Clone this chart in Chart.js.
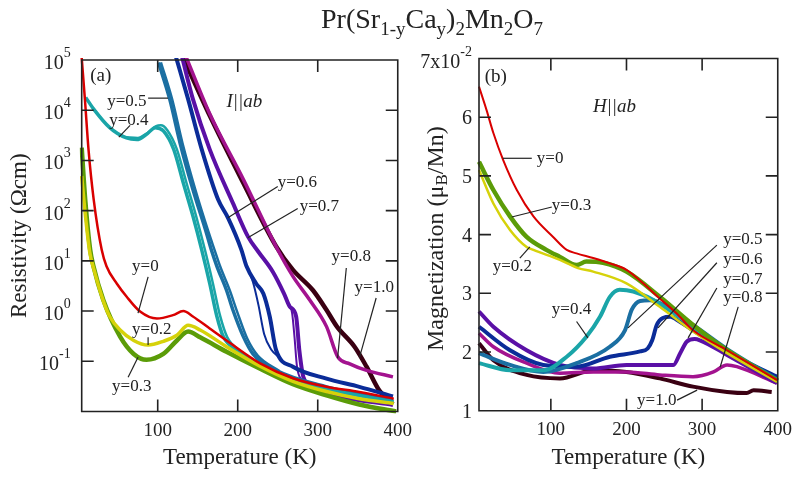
<!DOCTYPE html>
<html>
<head>
<meta charset="utf-8">
<script src="https://cdn.jsdelivr.net/npm/chart.js@4"></script>
<style>
  html, body { margin: 0; padding: 0; background: #fff; overflow: hidden; width: 793px; height: 477px; }
  .panel { position: absolute; top: 0; height: 477px; }
  #pa { left: 0; width: 420px; }
  #pb { left: 400px; width: 400px; }
  #title { position: absolute; left: 321px; top: 5px; font: 28px/1 'Liberation Serif', serif; color: #222; white-space: nowrap; }
  #title sub { font-size: 19px; vertical-align: -7px; }
</style>
</head>
<body>
<div class="panel" id="pa"><canvas id="ca"></canvas></div>
<div class="panel" id="pb"><canvas id="cb"></canvas></div>
<div id="title">Pr(Sr<sub>1-y</sub>Ca<sub>y</sub>)<sub>2</sub>Mn<sub>2</sub>O<sub>7</sub></div>
<script>
const serif = "'Liberation Serif', 'Times New Roman', serif";
const ink = '#222';

// ---- axes ----
const tempTicks = [100, 200, 300, 400];
const rhoTicks = [0.1, 1, 10, 100, 1e3, 1e4, 1e5];
const rhoTickLabels = [['10', '-1'], ['10', '0'], ['10', '1'], ['10', '2'], ['10', '3'], ['10', '4'], ['10', '5']];
const magTicks = [1, 2, 3, 4, 5, 6, 7];
const magTickLabels = [['1', ''], ['2', ''], ['3', ''], ['4', ''], ['5', ''], ['6', ''], ['7x10', '-2']];

// ---- (a) resistivity, Ωcm ----
const rhoT_0 = [5, 9, 13.5, 20, 30, 36, 49, 61, 78, 99, 119, 132, 144, 165, 186, 228, 269, 311, 352, 395];
const rho_0 = [1.1e5, 1.66e4, 1.66e3, 166, 16.6, 7.8, 3.5, 1.95, 0.98, 0.71, 0.83, 1.0, 0.78, 0.45, 0.26, 0.091, 0.046, 0.031, 0.0245, 0.018];
const rhoT_2 = [5, 9, 15, 20, 32, 40, 53, 70, 88, 107, 124, 138, 153, 186, 228, 269, 311, 352, 395];
const rho_2 = [490, 100, 15, 7, 1.6, 0.78, 0.42, 0.26, 0.21, 0.25, 0.33, 0.52, 0.42, 0.195, 0.08, 0.04, 0.025, 0.018, 0.0145];
const rhoT_3 = [5, 9.4, 15.6, 19.7, 32, 53, 70, 86, 107, 124, 138, 153, 186, 228, 269, 311, 352, 398];
const rho_3 = [1.8e3, 166, 16.6, 7.8, 1.66, 0.31, 0.14, 0.107, 0.14, 0.26, 0.39, 0.30, 0.155, 0.071, 0.035, 0.021, 0.0138, 0.01];
const rhoT_4 = [10, 20, 40, 61, 74, 86, 97, 107, 120, 132, 144, 155, 165, 174, 182, 199, 228, 269, 311, 395];
const rho_4 = [1.8e4, 1.05e4, 4.5e3, 2.8e3, 2.6e3, 3.3e3, 4.5e3, 3.9e3, 1.66e3, 355, 78, 16.6, 3.55, 0.78, 0.31, 0.166, 0.078, 0.042, 0.028, 0.0155];
const rhoT_4b = [60, 75, 88, 98, 104, 112, 124, 136, 148, 159, 169, 178, 187, 203, 230];
const rho_4b = [2.9e3, 2.8e3, 3.6e3, 4.8e3, 5.0e3, 4.0e3, 1.66e3, 355, 78, 16.6, 3.55, 0.8, 0.3, 0.16, 0.08];
const rhoT_5 = [101, 115, 128, 144, 161, 167, 174, 186, 194, 207, 219, 248, 311, 394];
const rho_5 = [8.9e4, 1.66e4, 2.2e3, 263, 35.5, 16.6, 7.8, 2.6, 1.05, 0.31, 0.141, 0.066, 0.031, 0.0166];
const rhoT_5b = [104, 118, 131, 147, 164, 171, 178, 190, 199, 212, 225, 252];
const rho_5b = [9e4, 1.66e4, 2.2e3, 263, 35.5, 16.6, 7.8, 2.6, 1.0, 0.28, 0.13, 0.064];
const rhoT_6 = [123, 138, 155, 175.5, 188, 204.6, 211, 223, 232, 240, 248, 269, 311, 352, 394];
const rho_6 = [1.12e5, 1.66e4, 1.66e3, 166, 71, 16.6, 7.8, 3.55, 2.24, 0.78, 0.166, 0.078, 0.045, 0.031, 0.02];
const rhoT_6b = [211, 219, 226, 233, 242, 252];
const rho_6b = [7.8, 3.8, 1.3, 0.35, 0.17, 0.12];
const rhoT_7 = [130, 144, 165, 194, 213, 226, 244, 258, 265, 273, 277, 282, 294, 331, 394];
const rho_7 = [1.23e5, 1.66e4, 1.66e3, 141, 30, 15, 6.0, 2.2, 1.23, 0.78, 0.166, 0.049, 0.031, 0.0195, 0.0135];
const rhoT_7b = [262, 268, 271, 274, 280, 290];
const rho_7b = [1.5, 0.9, 0.3, 0.08, 0.042, 0.033];
const rhoT_8 = [135, 165, 207, 250, 269, 290, 311, 325, 340, 361, 394];
const rho_8 = [1.2e5, 8.5e3, 420, 16.6, 4.9, 1.66, 0.49, 0.123, 0.089, 0.066, 0.049];
const rhoT_10 = [131, 165, 207, 248, 269, 294, 311, 324, 346, 361, 377, 394];
const rho_10 = [1.2e5, 7.8e3, 355, 19.5, 6.6, 2.6, 1.05, 0.49, 0.195, 0.078, 0.026, 0.014];

// ---- (b) magnetization, 10^-2 μB/Mn ----
const magT_0 = [5, 15, 24, 37, 55, 77, 103, 121, 134, 156, 178, 200, 222, 244, 266, 288, 333, 399];
const mag_0 = [6.52, 6.12, 5.73, 5.27, 4.76, 4.31, 3.96, 3.74, 3.68, 3.60, 3.51, 3.40, 3.17, 2.91, 2.66, 2.37, 2.03, 1.52];
const magT_2 = [5, 24, 46, 68, 77, 112, 136, 156, 200, 244, 288, 333, 399];
const mag_2 = [5.10, 4.53, 4.08, 3.79, 3.74, 3.57, 3.43, 3.37, 3.17, 2.77, 2.35, 1.98, 1.49];
const magT_3 = [5, 24, 46, 68, 94, 112, 134, 147, 169, 200, 244, 288, 333, 400];
const mag_3 = [5.24, 4.76, 4.31, 3.96, 3.74, 3.62, 3.48, 3.54, 3.52, 3.37, 2.94, 2.46, 2.03, 1.51];
const magT_4 = [5, 46, 90, 121, 147, 165, 178, 191, 209, 235, 288, 333, 399];
const mag_4 = [1.81, 1.69, 1.69, 1.92, 2.26, 2.60, 2.94, 3.06, 3.03, 2.89, 2.43, 2.03, 1.52];
const magT_5 = [5, 46, 90, 134, 178, 198, 207, 218, 231, 240, 288, 333, 399];
const mag_5 = [1.98, 1.78, 1.66, 1.81, 2.09, 2.37, 2.72, 2.87, 2.88, 2.86, 2.46, 2.05, 1.53];
const magT_6 = [5, 46, 90, 134, 178, 218, 228, 234, 240, 248, 258, 270, 288, 333, 399];
const mag_6 = [2.43, 2.03, 1.78, 1.75, 1.92, 2.01, 2.06, 2.2, 2.46, 2.58, 2.6, 2.52, 2.37, 2.0, 1.58];
const magT_7 = [5, 24, 68, 112, 156, 200, 262, 271, 280, 290, 297, 333, 399];
const mag_7 = [2.69, 2.43, 2.03, 1.78, 1.72, 1.78, 1.78, 1.98, 2.18, 2.22, 2.20, 1.95, 1.47];
const magT_8 = [5, 24, 68, 112, 156, 200, 244, 288, 300, 315, 333, 346, 399];
const mag_8 = [2.32, 2.09, 1.81, 1.64, 1.66, 1.66, 1.61, 1.58, 1.60, 1.66, 1.78, 1.75, 1.47];
const magT_10 = [5, 24, 68, 112, 156, 200, 244, 288, 333, 359, 368, 392];
const mag_10 = [2.15, 1.86, 1.61, 1.55, 1.69, 1.66, 1.55, 1.41, 1.32, 1.30, 1.35, 1.32];

const colors = {
  y0: '#d90000', y2: '#d6d20a', y3: '#5b9c08', y4: '#1aa5a8', y5: '#1b6fa2',
  y6: '#0b2c98', y7: '#5a10a6', y8: '#a3138f', y10: '#3a0012'
};

function pts(xs, ys) { return xs.map((x, i) => ({ x, y: ys[i] })); }
function curve(label, xs, ys, color, width) {
  return { label, data: pts(xs, ys), borderColor: color, borderWidth: width, pointRadius: 0,
    fill: false, cubicInterpolationMode: 'monotone', clip: 2 };
}

const dsA = [
  curve('y=0', rhoT_0, rho_0, colors.y0, 2.5),
  curve('y=0.2', rhoT_2, rho_2, colors.y2, 3.5),
  curve('y=0.3', rhoT_3, rho_3, colors.y3, 4.5),
  curve('y=0.4', rhoT_4, rho_4, colors.y4, 3.5),
  curve('y=0.4 b', rhoT_4b, rho_4b, colors.y4, 2.5),
  curve('y=0.5', rhoT_5, rho_5, colors.y5, 3.5),
  curve('y=0.5 b', rhoT_5b, rho_5b, colors.y5, 2.5),
  curve('y=0.6', rhoT_6, rho_6, colors.y6, 4),
  curve('y=0.6 b', rhoT_6b, rho_6b, colors.y6, 2),
  curve('y=0.7', rhoT_7, rho_7, colors.y7, 4),
  curve('y=0.7 b', rhoT_7b, rho_7b, colors.y7, 2),
  curve('y=0.8', rhoT_8, rho_8, colors.y8, 3.5),
  curve('y=1.0', rhoT_10, rho_10, colors.y10, 4.5)
];

const dsB = [
  curve('y=0', magT_0, mag_0, colors.y0, 2),
  curve('y=0.2', magT_2, mag_2, colors.y2, 2.5),
  curve('y=0.3', magT_3, mag_3, colors.y3, 4.5),
  curve('y=0.4', magT_4, mag_4, colors.y4, 4),
  curve('y=0.5', magT_5, mag_5, colors.y5, 4),
  curve('y=0.6', magT_6, mag_6, colors.y6, 4),
  curve('y=0.7', magT_7, mag_7, colors.y7, 4),
  curve('y=0.8', magT_8, mag_8, colors.y8, 3.5),
  curve('y=1.0', magT_10, mag_10, colors.y10, 4)
];

// labels and leader lines, in data units
const notesA = [
  { text: '(a)', x: 15.6, y: 4.8e4, size: 19 },
  { text: 'I||ab', x: 186, y: 1.45e4, italic: true, size: 19 },
  { text: 'y=0.5', x: 36.8, y: 1.5e4, line: [88, 1.74e4, 113, 1.74e4] },
  { text: 'y=0.4', x: 39.3, y: 6.3e3, line: [65.5, 5.0e3, 51.4, 2.9e3] },
  { text: 'y=0.6', x: 250, y: 363, line: [250, 302, 187.7, 72] },
  { text: 'y=0.7', x: 277.4, y: 120, line: [275, 110, 212.6, 28.8] },
  { text: 'y=0.8', x: 317.3, y: 12, line: [335.7, 7.2, 324.8, 0.115] },
  { text: 'y=1.0', x: 346, y: 3.0, line: [373, 1.82, 352.2, 0.12] },
  { text: 'y=0', x: 68, y: 7.6, line: [88, 4.8, 75.4, 0.91] },
  { text: 'y=0.2', x: 68, y: 0.436, line: [88, 0.30, 88, 0.21] },
  { text: 'y=0.3', x: 43, y: 0.0316, line: [63, 0.048, 75.4, 0.12] }
];
const notesB = [
  { text: '(b)', x: 12.6, y: 6.68, size: 19 },
  { text: 'H||ab', x: 155.6, y: 6.17, italic: true, size: 19 },
  { text: 'y=0', x: 81.5, y: 5.30, line: [36.4, 5.30, 74.8, 5.30] },
  { text: 'y=0.3', x: 101.3, y: 4.50, line: [48.3, 4.30, 101.3, 4.47] },
  { text: 'y=0.2', x: 23.2, y: 3.45, line: [59, 3.60, 72.2, 3.79] },
  { text: 'y=0.4', x: 101.3, y: 2.72, line: [134, 2.52, 149, 2.24] },
  { text: 'y=0.5', x: 327.8, y: 3.91, line: [319.5, 3.82, 202, 2.41] },
  { text: 'y=0.6', x: 327.8, y: 3.57, line: [319.5, 3.52, 241.7, 2.41] },
  { text: 'y=0.7', x: 327.8, y: 3.23, line: [319.5, 3.09, 281.5, 2.24] },
  { text: 'y=0.8', x: 327.8, y: 2.92, line: [347.7, 2.77, 323.8, 1.74] },
  { text: 'y=1.0', x: 214, y: 1.18, line: [266.9, 1.18, 293.4, 1.35] }
];

// box, inward ticks on all four sides, y labels with exponents, annotations
const framePlugin = {
  id: 'frame',
  afterDraw(chart, args, opts) {
    const { ctx, chartArea: a } = chart;
    const sx = chart.scales.x, sy = chart.scales.y;
    const len = 12;
    ctx.save();
    ctx.strokeStyle = ink;
    ctx.lineWidth = 1.6;
    ctx.beginPath();
    ctx.rect(a.left, a.top, a.right - a.left, a.bottom - a.top);
    sx.ticks.forEach(t => {
      const p = sx.getPixelForValue(t.value);
      ctx.moveTo(p, a.bottom); ctx.lineTo(p, a.bottom - len);
      ctx.moveTo(p, a.top); ctx.lineTo(p, a.top + len);
    });
    sy.ticks.forEach(t => {
      const p = sy.getPixelForValue(t.value);
      ctx.moveTo(a.left, p); ctx.lineTo(a.left + len, p);
      ctx.moveTo(a.right, p); ctx.lineTo(a.right - len, p);
    });
    ctx.stroke();

    ctx.fillStyle = ink;
    ctx.textAlign = 'right';
    ctx.textBaseline = 'alphabetic';
    const base = '20px ' + serif, sup = '14px ' + serif;
    sy.ticks.forEach((t, i) => {
      const [b, e] = opts.yLabels[i];
      const p = sy.getPixelForValue(t.value);
      const r = a.left - opts.yPad;
      if (e) {
        ctx.font = sup;
        ctx.fillText(e, r, p - 3);
        const we = ctx.measureText(e).width;
        ctx.font = base;
        ctx.fillText(b, r - we, p + 9);
      } else {
        ctx.font = base;
        ctx.fillText(b, r, p + 7);
      }
    });

    ctx.lineWidth = 1.2;
    ctx.textAlign = 'left';
    ctx.textBaseline = 'middle';
    (opts.notes || []).forEach(n => {
      if (n.line) {
        ctx.beginPath();
        ctx.moveTo(sx.getPixelForValue(n.line[0]), sy.getPixelForValue(n.line[1]));
        ctx.lineTo(sx.getPixelForValue(n.line[2]), sy.getPixelForValue(n.line[3]));
        ctx.stroke();
      }
      ctx.font = (n.italic ? 'italic ' : '') + (n.size || 17) + 'px ' + serif;
      ctx.fillText(n.text, sx.getPixelForValue(n.x), sy.getPixelForValue(n.y));
    });

    // y title with a subscript (panel b)
    if (opts.yTitle) {
      const parts = opts.yTitle;
      const big = '24px ' + serif, small = '17px ' + serif;
      let w = 0;
      parts.forEach(p => { ctx.font = p[1] ? small : big; w += ctx.measureText(p[0]).width; });
      ctx.translate(a.left - 42, (a.top + a.bottom) / 2 + 4);
      ctx.rotate(-Math.PI / 2);
      let x = -w / 2;
      parts.forEach(p => {
        ctx.font = p[1] ? small : big;
        ctx.fillText(p[0], x, p[1] ? 6 : 0);
        x += ctx.measureText(p[0]).width;
      });
    }
    ctx.restore();
  }
};

const tickFont = { family: serif, size: 19 };
const titleFont = { family: serif, size: 23 };

function xAxis(height) {
  return {
    type: 'linear', min: 5, max: 400,
    afterBuildTicks: s => { s.ticks = tempTicks.map(v => ({ value: v })); },
    afterFit: s => { s.height = height; },
    grid: { display: false, drawTicks: false },
    border: { display: false },
    ticks: { font: tickFont, color: ink, padding: 8, maxRotation: 0 },
    title: { display: true, text: 'Temperature (K)', font: titleFont, color: ink, padding: { top: 0, bottom: 5 } }
  };
}

new Chart(document.getElementById('ca'), {
  type: 'line',
  data: { datasets: dsA },
  options: {
    responsive: true, maintainAspectRatio: false, animation: false,
    layout: { padding: { left: 0, top: 60, right: 21.7, bottom: 0 } },
    plugins: { legend: { display: false }, tooltip: { enabled: false },
      frame: { notes: notesA, yLabels: rhoTickLabels, yPad: 11 } },
    scales: {
      x: xAxis(65.5),
      y: {
        type: 'logarithmic', min: 0.01, max: 1e5,
        afterBuildTicks: s => { s.ticks = rhoTicks.map(v => ({ value: v })); },
        afterFit: s => { s.width = 81.7; },
        grid: { display: false, drawTicks: false },
        border: { display: false },
        ticks: { display: false },
        title: { display: true, text: 'Resistivity (Ωcm)', font: titleFont, color: ink, padding: { top: 6, bottom: 0 } }
      }
    }
  },
  plugins: [framePlugin]
});

new Chart(document.getElementById('cb'), {
  type: 'line',
  data: { datasets: dsB },
  options: {
    responsive: true, maintainAspectRatio: false, animation: false,
    layout: { padding: { left: 0, top: 58.5, right: 21, bottom: 0 } },
    plugins: { legend: { display: false }, tooltip: { enabled: false },
      frame: { notes: notesB, yLabels: magTickLabels, yPad: 7,
        yTitle: [['Magnetization (μ', 0], ['B', 1], ['/Mn)', 0]] } },
    scales: {
      x: xAxis(66.3),
      y: {
        type: 'linear', min: 1, max: 7,
        afterBuildTicks: s => { s.ticks = magTicks.map(v => ({ value: v })); },
        afterFit: s => { s.width = 79; },
        grid: { display: false, drawTicks: false },
        border: { display: false },
        ticks: { display: false }
      }
    }
  },
  plugins: [framePlugin]
});
</script>
</body>
</html>
